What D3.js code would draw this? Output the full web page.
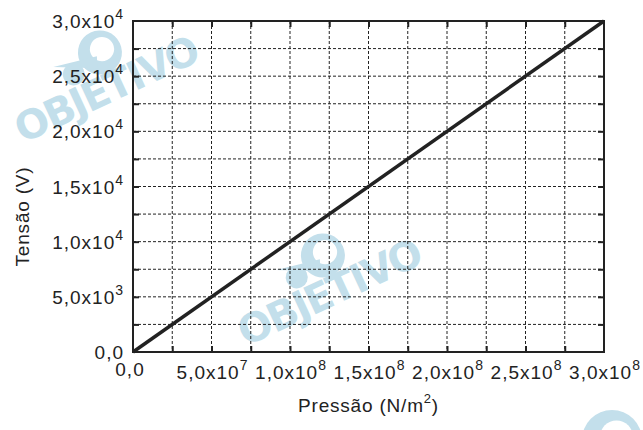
<!DOCTYPE html>
<html>
<head>
<meta charset="utf-8">
<script src="https://cdn.jsdelivr.net/npm/d3@7"></script>
<style>
  body { margin: 0; background: #fff; }
  text { font-family: "Liberation Sans", Arial, sans-serif; fill: #222; }
</style>
</head>
<body>
<script>
// data
var pressure = [0, 3.0e8];          // N/m2
var voltage = [0, 3.0e4];           // V
var xTickValues = [0, 5e7, 1e8, 1.5e8, 2e8, 2.5e8, 3e8];
var xTickMant = ["0,0", "5,0", "1,0", "1,5", "2,0", "2,5", "3,0"];
var xTickExp = ["", "7", "8", "8", "8", "8", "8"];
var yTickValues = [0, 5e3, 1e4, 1.5e4, 2e4, 2.5e4, 3e4];
var yTickMant = ["0,0", "5,0", "1,0", "1,5", "2,0", "2,5", "3,0"];
var yTickExp = ["", "3", "4", "4", "4", "4", "4"];
var gridStepX = 2.5e7, gridStepY = 2.5e3;

var svgWidth = 643, svgHeight = 430;
var margin = {top: 21, right: 39, bottom: 78, left: 133};
var width = svgWidth - margin.left - margin.right,
    height = svgHeight - margin.top - margin.bottom;

var svg = d3.select("body").append("svg")
    .attr("width", svgWidth)
    .attr("height", svgHeight);

// watermarks (OBJETIVO logo)
var wmColor = "#c3dfeb";
function logo(g, cx, cy, r) {
  g.append("circle").attr("cx", cx).attr("cy", cy).attr("r", r).style("fill", wmColor);
  g.append("circle").attr("cx", cx + r * 0.15).attr("cy", cy - r * 0.1).attr("r", r * 0.55).style("fill", "#fff");
  g.append("path")
    .attr("d", "M" + (cx - r * 2.2) + "," + (cy - r * 0.3) +
               " L" + (cx - r * 0.2) + "," + (cy + r * 0.1) +
               " L" + (cx - r * 0.4) + "," + (cy + r * 0.6) + " Z")
    .style("fill", wmColor);
  g.append("circle").attr("cx", cx - r * 1.5).attr("cy", cy + r * 0.4).attr("r", r * 0.5).style("fill", wmColor);
}
function watermark(x, y) {
  var g = svg.append("g")
    .attr("transform", "translate(" + x + "," + y + ")rotate(-25)");
  logo(g, 10, -50, 22);
  g.append("text")
    .attr("text-anchor", "middle")
    .style("font-family", "'DejaVu Sans', sans-serif")
    .style("font-size", "40px")
    .style("font-weight", "bold")
    .style("letter-spacing", "-2px")
    .style("fill", wmColor)
    .text("OBJETIVO");
}
watermark(112, 102);
watermark(335, 305);
logo(svg.append("g"), 612, 440, 30);

var x = d3.scaleLinear().domain([0, 3e8]).range([0, width]);
var y = d3.scaleLinear().domain([0, 3e4]).range([height, 0]);

var plot = svg.append("g")
    .attr("transform", "translate(" + margin.left + "," + margin.top + ")");

var xGrid = d3.range(1, 12).map(function(i) { return i * gridStepX; });
var yGrid = d3.range(1, 12).map(function(i) { return i * gridStepY; });

// dashed grid
plot.append("g").selectAll("line").data(xGrid).enter().append("line")
    .attr("x1", function(d) { return x(d); }).attr("x2", function(d) { return x(d); })
    .attr("y1", 0).attr("y2", height)
    .style("stroke", "#222").style("stroke-width", 1).style("stroke-dasharray", "3,2");
plot.append("g").selectAll("line").data(yGrid).enter().append("line")
    .attr("y1", function(d) { return y(d); }).attr("y2", function(d) { return y(d); })
    .attr("x1", 0).attr("x2", width)
    .style("stroke", "#222").style("stroke-width", 1).style("stroke-dasharray", "3,2");

// inner ticks on all four sides
var tick = 6;
plot.append("g").call(d3.axisBottom(x).tickValues(xGrid).tickSize(tick).tickFormat(""))
    .attr("transform", "translate(0," + height + ") scale(1,-1)");
plot.append("g").call(d3.axisTop(x).tickValues(xGrid).tickSize(tick).tickFormat(""))
    .attr("transform", "scale(1,-1)");
plot.append("g").call(d3.axisLeft(y).tickValues(yGrid).tickSize(tick).tickFormat(""))
    .attr("transform", "scale(-1,1)");
plot.append("g").call(d3.axisRight(y).tickValues(yGrid).tickSize(tick).tickFormat(""))
    .attr("transform", "translate(" + width + ",0) scale(-1,1)");
plot.selectAll(".domain").remove();
plot.selectAll(".tick line").style("stroke", "#222").style("stroke-width", 2);

// frame
plot.append("rect")
    .attr("width", width).attr("height", height)
    .style("fill", "none").style("stroke", "#222").style("stroke-width", 2);

// line
var line = d3.line()
    .x(function(d) { return x(d[0]); })
    .y(function(d) { return y(d[1]); });
plot.append("path")
    .datum(d3.zip(pressure, voltage))
    .attr("d", line)
    .style("fill", "none").style("stroke", "#222").style("stroke-width", 3.5);

// tick labels
var fs = 19;
function label(g, mant, exp) {
  g.append("tspan").text(mant + (exp ? "x10" : ""));
  if (exp) g.append("tspan").attr("dy", -9).style("font-size", "14px").text(exp);
}
xTickValues.forEach(function(v, i) {
  var t = plot.append("text")
      .attr("x", x(v) + (i === 0 ? -3 : 1))
      .attr("y", height + (i === 0 ? 24 : 27))
      .attr("text-anchor", "middle")
      .style("font-size", fs + "px")
      .style("letter-spacing", "1px");
  label(t, xTickMant[i], xTickExp[i]);
});
yTickValues.forEach(function(v, i) {
  var t = plot.append("text")
      .attr("x", -9)
      .attr("y", y(v) + 7)
      .attr("text-anchor", "end")
      .style("font-size", fs + "px")
      .style("letter-spacing", "1px");
  label(t, yTickMant[i], yTickExp[i]);
});

// axis titles
var xt = svg.append("text")
    .attr("x", margin.left + width / 2)
    .attr("y", 412)
    .attr("text-anchor", "middle")
    .style("font-size", "19px")
    .style("letter-spacing", "0.8px");
xt.append("tspan").text("Pressão (N/m");
xt.append("tspan").attr("dy", -9).style("font-size", "13px").text("2");
xt.append("tspan").attr("dy", 9).text(")");

svg.append("text")
    .attr("transform", "translate(29," + (margin.top + height / 2 + 30) + ")rotate(-90)")
    .attr("text-anchor", "middle")
    .style("font-size", "19px")
    .style("letter-spacing", "0.8px")
    .text("Tensão (V)");
</script>
</body>
</html>
